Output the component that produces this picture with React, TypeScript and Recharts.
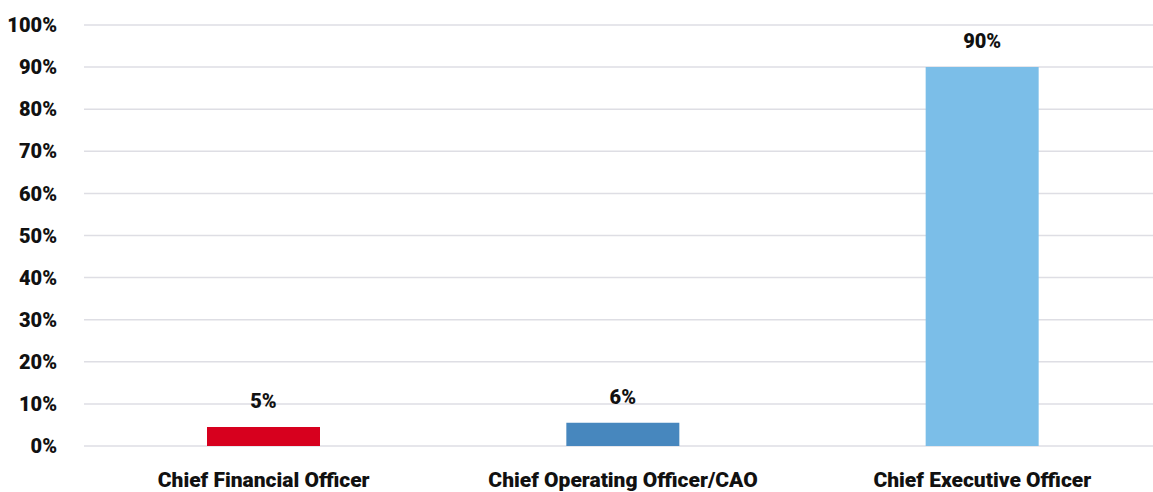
import { BarChart, Bar, XAxis, YAxis, CartesianGrid, Cell, LabelList } from 'recharts'

const categories = ['Chief Financial Officer', 'Chief Operating Officer/CAO', 'Chief Executive Officer']
const shares = [4.5, 5.5, 90]
const barColors = ['#D7001E', '#4787BE', '#7BBEE8']
const yTicks = [0, 10, 20, 30, 40, 50, 60, 70, 80, 90, 100]

const FONT = 'Roboto, "Open Sans", sans-serif'

const chartData = categories.map((name, i) => ({ name, value: shares[i] }))

export default function App() {
  return (
    <div style={{ position: 'absolute', left: 0, top: 0, width: 1153, height: 492, overflow: 'hidden', background: '#fff' }}>
      <BarChart
        width={1162}
        height={492}
        data={chartData}
        margin={{ top: 25, right: 0, left: 0, bottom: 16 }}
        barCategoryGap={0}
      >
        <CartesianGrid vertical={false} stroke="#DEDEE4" strokeWidth={1.5} />
        <XAxis
          dataKey="name"
          axisLine={false}
          tickLine={false}
          tickSize={0}
          tickMargin={26}
          interval={0}
          tick={{ fontSize: 21, fontWeight: 900, fontFamily: FONT, fill: '#111' }}
        />
        <YAxis
          domain={[0, 100]}
          ticks={yTicks}
          tickFormatter={(v: number) => `${v}%`}
          axisLine={false}
          tickLine={false}
          tickSize={0}
          tickMargin={27}
          width={84}
          tick={{ fontSize: 20, fontWeight: 900, fontFamily: FONT, fill: '#111' }}
        />
        <Bar dataKey="value" barSize={113} isAnimationActive={false}>
          {chartData.map((entry, i) => (
            <Cell key={entry.name} fill={barColors[i]} />
          ))}
          <LabelList
            dataKey="value"
            position="top"
            offset={19}
            formatter={(v: number) => `${Math.round(v)}%`}
            style={{ fontSize: 20, fontWeight: 900, fontFamily: FONT, fill: '#111' }}
          />
        </Bar>
      </BarChart>
    </div>
  )
}
